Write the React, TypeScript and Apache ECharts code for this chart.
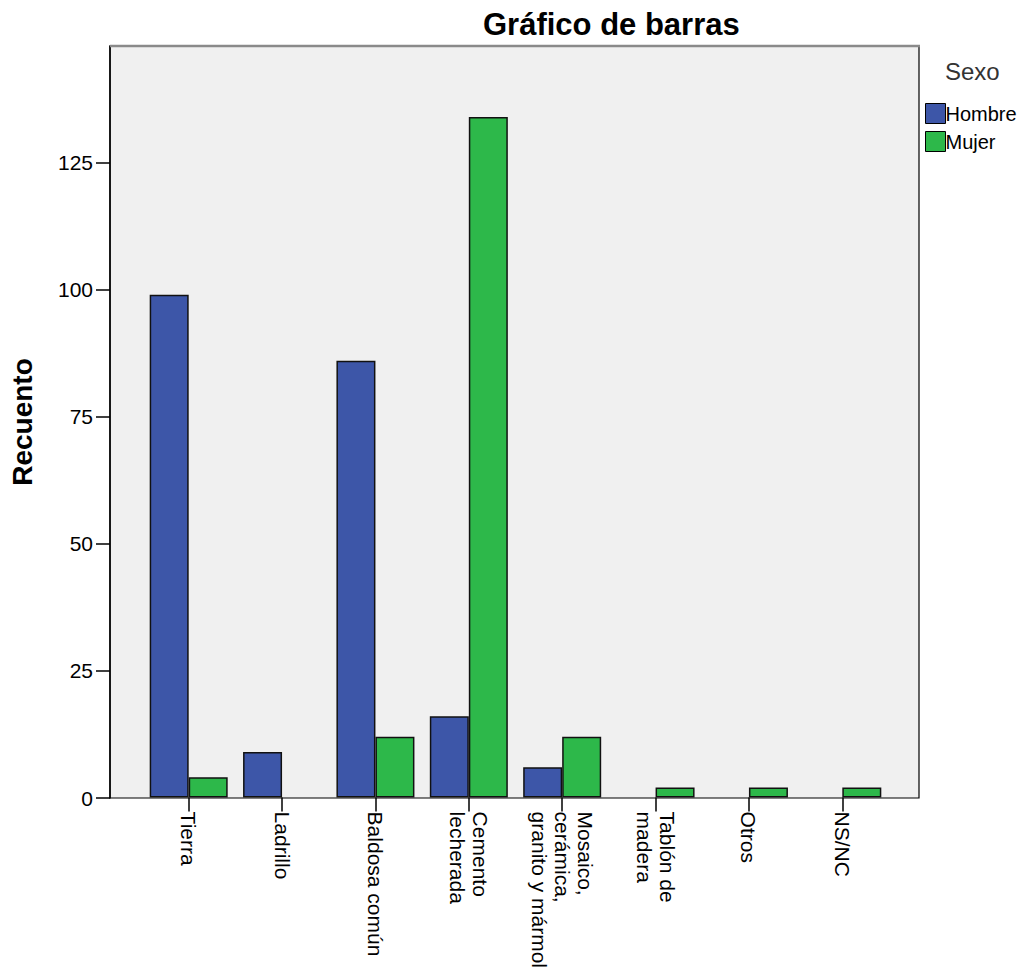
import React, { useEffect, useRef } from "react";
import * as echarts from "echarts";

const categories = [
  "Tierra",
  "Ladrillo",
  "Baldosa común",
  "Cemento\nlecherada",
  "Mosaico,\ncerámica,\ngranito y mármol",
  "Tablón de\nmadera",
  "Otros",
  "NS/NC",
];
const hombre = [99, 9, 86, 16, 6, 0, 0, 0];
const mujer = [4, 0, 12, 134, 12, 2, 2, 2];
const yTicks = [0, 25, 50, 75, 100, 125];
const seriesNames = ["Hombre", "Mujer"];
const legendTitle = "Sexo";
const chartTitle = "Gráfico de barras";
const yName = "Recuento";

const FONT = "'Liberation Sans', Arial, sans-serif";

const hideZero = (arr: number[]) => arr.map((v) => (v === 0 ? null : v));

export default function App() {
  const ref = useRef<HTMLDivElement>(null);
  useEffect(() => {
    if (!ref.current) return;
    const chart = echarts.init(ref.current, null, { renderer: "svg" });
    const yCommon = { type: "value", min: 0, max: 148 };
    chart.setOption({
      animation: false,
      backgroundColor: "#ffffff",
      textStyle: { fontFamily: FONT },
      title: {
        text: chartTitle,
        left: 478,
        top: 4,
        textStyle: { fontFamily: FONT, fontSize: 31, fontWeight: "bold", color: "#000" },
      },
      legend: {
        data: seriesNames,
        orient: "vertical",
        left: 920,
        top: 98,
        itemWidth: 20,
        itemHeight: 20,
        itemGap: 7,
        icon: "rect",
        textStyle: { fontFamily: FONT, fontSize: 20, color: "#000", padding: [0, 0, 0, -5] },
        itemStyle: { borderColor: "#000", borderWidth: 1 },
      },
      graphic: [
        {
          type: "text",
          left: 945,
          top: 59,
          style: { text: legendTitle, font: `24px ${FONT}`, fill: "#333" },
        },
        {
          type: "line",
          shape: { x1: 110, y1: 46, x2: 920, y2: 46 },
          style: { stroke: "#8a8a8a", lineWidth: 2.5 },
          z: 10,
        },
      ],
      grid: [
        {
          left: 110,
          top: 46,
          right: 109,
          bottom: 173,
          show: true,
          backgroundColor: "#F0F0F0",
          borderColor: "#000",
          borderWidth: 1.2,
        },
        { left: 142, top: 46, right: 139, bottom: 173 },
      ],
      xAxis: [
        { type: "category", gridIndex: 0, show: false, data: ["a"] },
        {
          type: "category",
          gridIndex: 1,
          data: categories,
          axisLine: { show: false },
          axisTick: { show: true, alignWithLabel: true, length: 14, lineStyle: { color: "#000", width: 1.5 } },
          axisLabel: {
            rotate: -90,
            margin: 14,
            fontSize: 21,
            lineHeight: 23,
            color: "#000",
            fontFamily: FONT,
            interval: 0,
          },
        },
      ],
      yAxis: [
        {
          ...yCommon,
          gridIndex: 0,
          splitLine: { show: false },
          axisLine: { show: true, lineStyle: { color: "#000", width: 1.5 } },
          axisTick: { show: true, length: 14, lineStyle: { color: "#000", width: 1.5 }, customValues: yTicks },
          axisLabel: { fontSize: 21, color: "#000", margin: 17, fontFamily: FONT, customValues: yTicks },
          name: yName,
          nameLocation: "middle",
          nameGap: 74,
          nameTextStyle: { fontSize: 28, fontWeight: "bold", color: "#000", fontFamily: FONT },
        },
        { ...yCommon, gridIndex: 1, show: false, splitLine: { show: false } },
      ],
      series: [
        {
          name: seriesNames[0],
          type: "bar",
          xAxisIndex: 1,
          yAxisIndex: 1,
          data: hideZero(hombre),
          barWidth: 39,
          barGap: "0%",
          itemStyle: { color: "#3D56A8", borderColor: "#111", borderWidth: 1.5 },
        },
        {
          name: seriesNames[1],
          type: "bar",
          xAxisIndex: 1,
          yAxisIndex: 1,
          data: hideZero(mujer),
          barWidth: 39,
          barGap: "0%",
          itemStyle: { color: "#2DB84A", borderColor: "#111", borderWidth: 1.5 },
        },
      ],
    });
    return () => chart.dispose();
  }, []);
  return (
    <div
      ref={ref}
      style={{ position: "fixed", left: 0, top: 0, width: 1028, height: 971 }}
    />
  );
}
